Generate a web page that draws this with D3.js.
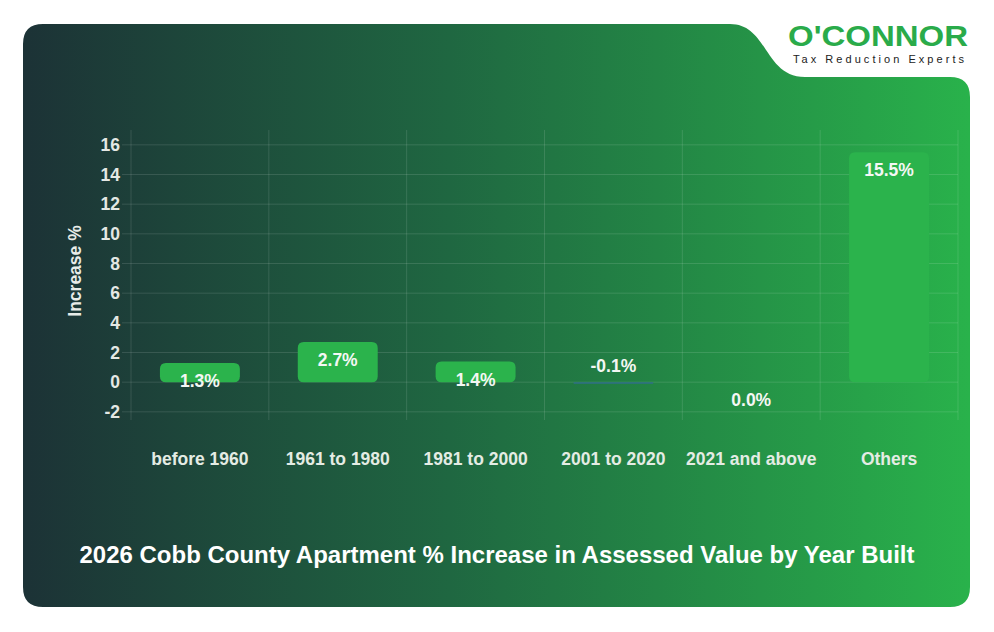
<!DOCTYPE html>
<html>
<head>
<meta charset="utf-8">
<script src="https://cdn.jsdelivr.net/npm/d3@7"></script>
<style>
  html, body { margin: 0; padding: 0; background: #ffffff; }
  svg { display: block; }
  text { font-family: "Liberation Sans", Arial, Helvetica, sans-serif; font-weight: bold; }
</style>
</head>
<body>
<svg id="chart" width="994" height="632"></svg>
<script>
// chart values
const categories = ["before 1960", "1961 to 1980", "1981 to 2000", "2001 to 2020", "2021 and above", "Others"];
const increases = [1.3, 2.7, 1.4, -0.1, 0.0, 15.5];
const yTicks = [-2, 0, 2, 4, 6, 8, 10, 12, 14, 16];
const yDomain = [-2.55, 17];
const chartTitle = "2026 Cobb County Apartment % Increase in Assessed Value by Year Built";
const yTitle = "Increase %";

const svg = d3.select("#chart");
const plot = { left: 131, right: 958, top: 130, bottom: 420 };

// card background
const defs = svg.append("defs");
const grad = defs.append("linearGradient")
  .attr("id", "bg").attr("x1", "0").attr("x2", "1").attr("y1", "0").attr("y2", "0");
grad.append("stop").attr("offset", "0").attr("stop-color", "#1c3236");
grad.append("stop").attr("offset", "0.45").attr("stop-color", "#1f6741");
grad.append("stop").attr("offset", "1").attr("stop-color", "#29b24b");

// card shape with the logo tab cut out at top right
const card = d3.path();
card.moveTo(43, 24);
card.lineTo(730, 24);
card.bezierCurveTo(768, 24, 764, 77, 805, 77);
card.lineTo(950, 77);
card.quadraticCurveTo(970, 77, 970, 97);
card.lineTo(970, 587);
card.quadraticCurveTo(970, 607, 950, 607);
card.lineTo(43, 607);
card.quadraticCurveTo(23, 607, 23, 587);
card.lineTo(23, 44);
card.quadraticCurveTo(23, 24, 43, 24);
card.closePath();
svg.append("path").attr("d", card.toString()).attr("fill", "url(#bg)");

// logo
svg.append("text")
  .attr("x", 788).attr("y", 46)
  .attr("textLength", 180).attr("lengthAdjust", "spacingAndGlyphs")
  .style("font-size", "29px").style("fill", "#2aab4a")
  .text("O'CONNOR");
svg.append("text")
  .attr("x", 793).attr("y", 63)
  .attr("textLength", 171).attr("lengthAdjust", "spacing")
  .style("font-size", "11px").style("font-weight", "normal").style("fill", "#222")
  .text("Tax Reduction Experts");

// scales
const x = d3.scaleBand()
  .domain(categories)
  .range([plot.left, plot.right])
  .paddingInner(0.42).paddingOuter(0.21);
const xBand = d3.scaleBand().domain(categories).range([plot.left, plot.right]);
const y = d3.scaleLinear().domain(yDomain).range([plot.bottom, plot.top]);

const grid = svg.append("g");
// horizontal grid
grid.selectAll("line.h").data(yTicks).join("line")
  .attr("class", "h")
  .attr("x1", plot.left - 9).attr("x2", plot.right)
  .attr("y1", d => y(d)).attr("y2", d => y(d))
  .attr("stroke", "rgba(255,255,255,0.12)").attr("stroke-width", 1);
// vertical grid at band edges
const edges = categories.map(c => xBand(c)).concat([plot.right]);
grid.selectAll("line.v").data(edges).join("line")
  .attr("class", "v")
  .attr("x1", d => d).attr("x2", d => d)
  .attr("y1", plot.top).attr("y2", plot.bottom)
  .attr("stroke", "rgba(255,255,255,0.12)").attr("stroke-width", 1);

const yAxis = svg.append("g")
  .attr("transform", `translate(${plot.left},0)`)
  .call(d3.axisLeft(y).tickValues(yTicks).tickFormat(d => String(d)).tickSize(0).tickPadding(11));
yAxis.select(".domain").remove();
yAxis.selectAll("text")
  .style("font-size", "17.5px").style("fill", "#e4e8e4");

const xAxis = svg.append("g")
  .attr("transform", `translate(0,${plot.bottom})`)
  .call(d3.axisBottom(xBand).tickSize(0).tickPadding(33));
xAxis.select(".domain").remove();
xAxis.selectAll("text")
  .style("font-size", "17.5px").style("fill", "#e4ece4");

// axis title
svg.append("text")
  .attr("transform", `translate(81,271) rotate(-90)`)
  .attr("text-anchor", "middle")
  .style("font-size", "17.5px").style("fill", "#e8ece8")
  .text(yTitle);

// bars
const rows = categories.map((c, i) => ({ c, v: increases[i] }));
svg.append("g").selectAll("path").data(rows).join("path")
  .attr("d", d => {
    const x0 = x(d.c), w = x.bandwidth();
    const top = Math.min(y(d.v), y(0)), bot = Math.max(y(d.v), y(0));
    const h = bot - top;
    const r = Math.min(6, h / 2, w / 2);
    const p = d3.path();
    p.moveTo(x0 + r, top);
    p.lineTo(x0 + w - r, top);
    p.quadraticCurveTo(x0 + w, top, x0 + w, top + r);
    p.lineTo(x0 + w, bot - r);
    p.quadraticCurveTo(x0 + w, bot, x0 + w - r, bot);
    p.lineTo(x0 + r, bot);
    p.quadraticCurveTo(x0, bot, x0, bot - r);
    p.lineTo(x0, top + r);
    p.quadraticCurveTo(x0, top, x0 + r, top);
    p.closePath();
    return p.toString();
  })
  .attr("fill", d => d.v < 0 ? "#2f6f86" : "#2bb34c");

// value labels (anchored at bar end, pulled back toward the base)
svg.append("g").selectAll("text").data(rows).join("text")
  .attr("x", d => x(d.c) + x.bandwidth() / 2)
  .attr("y", d => y(d.v) + (d.v < 0 ? -18 : 18))
  .attr("dy", "0.35em")
  .attr("text-anchor", "middle")
  .style("font-size", "17.5px").style("fill", "#f4f7f4")
  .text(d => d.v.toFixed(1) + "%");

// chart title
svg.append("text")
  .attr("x", 497).attr("y", 563)
  .attr("text-anchor", "middle")
  .attr("textLength", 835).attr("lengthAdjust", "spacingAndGlyphs")
  .style("font-size", "23px").style("fill", "#ffffff")
  .text(chartTitle);
</script>
</body>
</html>
